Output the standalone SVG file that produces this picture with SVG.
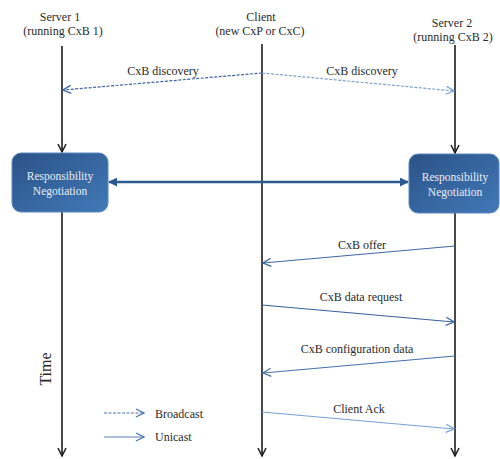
<svg xmlns="http://www.w3.org/2000/svg" width="500" height="459" viewBox="0 0 500 459" font-family="'Liberation Serif', 'DejaVu Serif', serif">
<style>
  text { font-family: 'Liberation Serif', 'DejaVu Serif', serif; font-size: 12px; fill: #2a2a2a; }
  .c { text-anchor: middle; }
  .life { stroke: #1c1c1c; stroke-width: 1.6; fill: none; }
  .msg { fill: none; stroke-width: 1.2; }
  .dash { stroke-dasharray: 3 1.5; }
  .box { fill: url(#boxGrad); stroke: #5b87bf; stroke-width: 1; }
  .boxText { fill: #e9eef6; font-size: 11.5px; text-anchor: middle; }
  .time { font-size: 16px; text-anchor: middle; }
</style>
<defs>
  <linearGradient id="boxGrad" x1="0" y1="0" x2="1" y2="1">
    <stop offset="0" stop-color="#2b5286"/>
    <stop offset="1" stop-color="#4179b8"/>
  </linearGradient>
  <marker id="aBlack" viewBox="0 0 10 10" refX="9" refY="5" markerWidth="10" markerHeight="10" markerUnits="userSpaceOnUse" orient="auto">
    <path d="M1,1 L9,5 L1,9" fill="none" stroke="#1c1c1c" stroke-width="1.5"/>
  </marker>
  <marker id="aDark" viewBox="0 0 10 10" refX="9" refY="5" markerWidth="10" markerHeight="10" markerUnits="userSpaceOnUse" orient="auto">
    <path d="M1,1 L9,5 L1,9" fill="none" stroke="#3b64a3" stroke-width="1.3"/>
  </marker>
  <marker id="aMid" viewBox="0 0 10 10" refX="9" refY="5" markerWidth="10" markerHeight="10" markerUnits="userSpaceOnUse" orient="auto">
    <path d="M1,1 L9,5 L1,9" fill="none" stroke="#4a74ae" stroke-width="1.3"/>
  </marker>
  <marker id="aLight" viewBox="0 0 10 10" refX="9" refY="5" markerWidth="10" markerHeight="10" markerUnits="userSpaceOnUse" orient="auto">
    <path d="M1,1 L9,5 L1,9" fill="none" stroke="#78a2d4" stroke-width="1.3"/>
  </marker>
  <marker id="aFill" viewBox="0 0 10 10" refX="9" refY="5" markerWidth="9" markerHeight="9" markerUnits="userSpaceOnUse" orient="auto-start-reverse">
    <path d="M0,0 L10,5 L0,10 Z" fill="#2b5a8f"/>
  </marker>
</defs>

<g id="lifeline-labels">
  <text class="c" x="60" y="21">Server 1</text>
  <text class="c" x="63" y="35">(running CxB 1)</text>
  <text class="c" x="261" y="21">Client</text>
  <text class="c" x="260" y="35">(new CxP or CxC)</text>
  <text class="c" x="452" y="27">Server 2</text>
  <text class="c" x="453" y="41">(running CxB 2)</text>
</g>

<g id="connectors">
  <line class="life" x1="62" y1="46" x2="62" y2="152" marker-end="url(#aBlack)"/>
  <line class="life" x1="62" y1="212" x2="62" y2="456" marker-end="url(#aBlack)"/>
  <line class="life" x1="262" y1="44" x2="262" y2="456" marker-end="url(#aBlack)"/>
  <line class="life" x1="455" y1="45" x2="455" y2="153" marker-end="url(#aBlack)"/>
  <line class="life" x1="455" y1="213" x2="455" y2="456" marker-end="url(#aBlack)"/>
  <line class="msg dash" stroke="#3b64a3" x1="262" y1="73" x2="63" y2="90" marker-end="url(#aDark)"/>
  <line class="msg dash" stroke="#7ea3d3" x1="262" y1="73" x2="454" y2="91" marker-end="url(#aLight)"/>
  <line stroke="#2b5a8f" stroke-width="2.6" x1="109" y1="182" x2="408" y2="182" marker-start="url(#aFill)" marker-end="url(#aFill)"/>
  <line class="msg" stroke="#3f67a3" x1="455" y1="246" x2="263" y2="263" marker-end="url(#aDark)"/>
  <line class="msg" stroke="#365f9c" x1="262" y1="305" x2="454" y2="322" marker-end="url(#aDark)"/>
  <line class="msg" stroke="#4470ab" x1="455" y1="356" x2="263" y2="373" marker-end="url(#aMid)"/>
  <line class="msg" stroke="#76a0d4" x1="262" y1="412" x2="454" y2="429" marker-end="url(#aLight)"/>
</g>

<g id="message-labels">
  <text class="c" x="163" y="75">CxB discovery</text>
  <text class="c" x="362" y="75">CxB discovery</text>
  <text class="c" x="362" y="249">CxB offer</text>
  <text class="c" x="361" y="301">CxB data request</text>
  <text class="c" x="357" y="353">CxB configuration data</text>
  <text class="c" x="359" y="413">Client Ack</text>
</g>

<g id="node-negotiation-1">
  <rect class="box" x="12" y="153" width="96" height="59" rx="9"/>
  <text class="boxText" x="60" y="180">Responsibility</text>
  <text class="boxText" x="60" y="195">Negotiation</text>
</g>

<g id="node-negotiation-2">
  <rect class="box" x="409" y="154" width="90" height="59" rx="9"/>
  <text class="boxText" x="455" y="181">Responsibility</text>
  <text class="boxText" x="455" y="196">Negotiation</text>
</g>

<g id="time-label">
  <text class="time" x="0" y="0" transform="translate(51,369) rotate(-90)">Time</text>
</g>

<g id="legend">
  <line class="msg dash" stroke="#4a70a8" x1="104" y1="413" x2="144" y2="413" marker-end="url(#aMid)"/>
  <text x="155" y="418">Broadcast</text>
  <line class="msg" stroke="#5a80b8" x1="104" y1="437" x2="144" y2="437" marker-end="url(#aMid)"/>
  <text x="155" y="441">Unicast</text>
</g>
</svg>
